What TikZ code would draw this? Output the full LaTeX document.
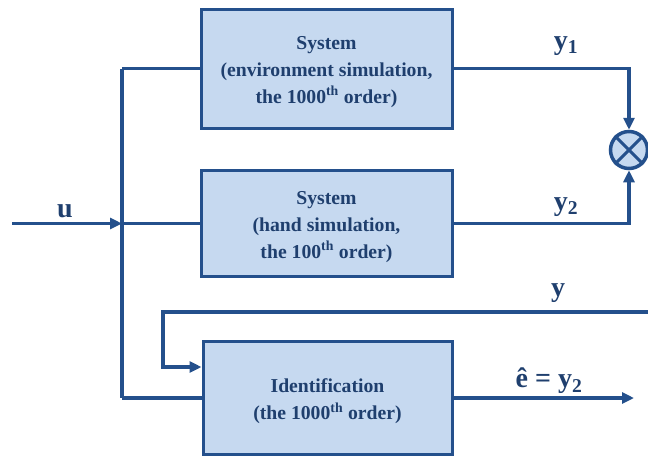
\documentclass[tikz,border=0pt]{standalone}
\usepackage{fontspec}
\setmainfont{Liberation Serif}
\usetikzlibrary{arrows.meta}
\definecolor{boxfill}{HTML}{C6D9F0}
\definecolor{lineblue}{HTML}{24508C}
\definecolor{txtblue}{HTML}{1F3F6E}
\tikzset{
  blk/.style={draw=lineblue, line width=3pt, fill=boxfill, inner sep=0pt},
  blktxt/.style={align=center, font=\bfseries\fontsize{19.7}{27}\selectfont,
    text=txtblue, inner sep=0pt, yshift=-3.5pt},
  wire/.style={draw=lineblue, line width=3.5pt},
  arr/.style={wire, -{Triangle[length=12pt,width=11pt]}},
  lbl/.style={text=txtblue, font=\bfseries\fontsize{28}{30}\selectfont, inner sep=0pt}
}
\begin{document}
\begin{tikzpicture}[x=1pt,y=-1pt]
\useasboundingbox (0,0) rectangle (648,459);
\node[blk, minimum width=251, minimum height=119] (s1) at (326.5,68.5) {};
\node[blktxt] (t1) at (s1.center)
  {System\\(environment simulation,\\the 1000\textsuperscript{th} order)};
\node[blk, minimum width=251, minimum height=106] (s2) at (326.5,223.5) {};
\node[blktxt] (t2) at (s2.center)
  {System\\(hand simulation,\\the 100\textsuperscript{th} order)};
\node[blk, minimum width=249, minimum height=113] (s3) at (327.5,398) {};
\node[blktxt] (t3) at (s3.center)
  {Identification\\(the 1000\textsuperscript{th} order)};
\node[circle, draw=lineblue, line width=3.5pt, fill=boxfill, minimum size=37, inner sep=0pt] (m) at (629,150) {};
\draw[wire, line width=3pt] (m.north west) -- (m.south east);
\draw[wire, line width=3pt] (m.north east) -- (m.south west);

\coordinate (in) at (12,223.5);
\coordinate (j) at (122,223.5);
\coordinate (jt) at (122,68.5);
\coordinate (jb) at (122,398);
\coordinate (yin) at (648,312);
\coordinate (fb) at (163,367);
\coordinate (out) at (634,398);

\draw[arr] (in) -- (j);
\draw[wire] (jt) -- (jb);
\draw[wire] (jt) -- (s1.west);
\draw[wire] (j) -- (s2.west);
\draw[wire] (jb) -- (s3.west);
\draw[arr] (s1.east) -| (m.north);
\draw[arr] (s2.east) -| (m.south);
\draw[arr] (yin) -| (fb) -- (fb -| s3.west);
\draw[arr] (s3.east) -- (out);

\node[lbl] (lu) at (65,211) {u};
\node[lbl] (ly1) at (566,46) {y\textsubscript{1}};
\node[lbl] (ly2) at (566,207) {y\textsubscript{2}};
\node[lbl] (ly) at (558,293) {y};
\node[lbl] (le) at (549,381) {ê = y\textsubscript{2}};
\end{tikzpicture}
\end{document}
